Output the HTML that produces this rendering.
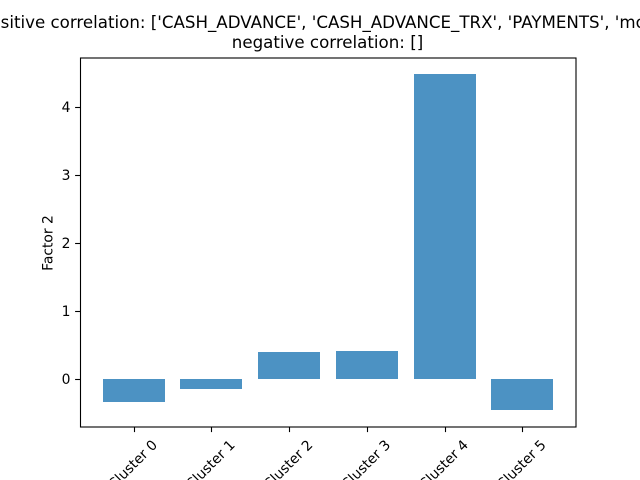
<!DOCTYPE html>
<html>
<head>
<meta charset="utf-8">
<style>
html,body{margin:0;padding:0;background:#fff;width:640px;height:480px;overflow:hidden}
svg{display:block}
text{font-family:"DejaVu Sans",sans-serif;fill:#000}
</style>
</head>
<body>
<svg id="chart" xmlns="http://www.w3.org/2000/svg" width="640" height="480" viewBox="0 0 640 480">
<rect x="0" y="0" width="640" height="480" fill="#fff"/>
<text x="-19" y="28" font-size="16.67" text-anchor="start">Positive correlation: ['CASH_ADVANCE', 'CASH_ADVANCE_TRX', 'PAYMENTS', 'monthly']</text>
<text x="327.5" y="48" font-size="16.67" text-anchor="middle">negative correlation: []</text>
<text x="0" y="0" font-size="13.89" text-anchor="middle" transform="translate(52.5,243) rotate(-90)">Factor 2</text>
<g id="bars"></g>
<g id="axes"></g>
<rect x="80.5" y="58" width="495.5" height="369" fill="none" stroke="#000" stroke-width="1.1"/>
</svg>
<script>
const categories = ["Cluster 0", "Cluster 1", "Cluster 2", "Cluster 3", "Cluster 4", "Cluster 5"];
const values = [-0.33, -0.14, 0.40, 0.42, 4.48, -0.455];
const yTicks = [0, 1, 2, 3, 4];

const NS = "http://www.w3.org/2000/svg";
const plot = {left: 80, right: 576, top: 57.6, bottom: 427.2};
const barWidth = 0.8;

function extent() {
  const lo = Math.min(0, ...values);
  const hi = Math.max(0, ...values);
  const pad = (hi - lo) * 0.05;
  return [lo - pad, hi + pad];
}
function xScale(i) {
  const lo = -barWidth / 2, hi = categories.length - 1 + barWidth / 2;
  const pad = (hi - lo) * 0.05;
  return plot.left + (i - (lo - pad)) / ((hi + pad) - (lo - pad)) * (plot.right - plot.left);
}
function yScale(v) {
  const [lo, hi] = extent();
  return plot.bottom - (v - lo) / (hi - lo) * (plot.bottom - plot.top);
}
function make(tag, attrs, parent) {
  const el = document.createElementNS(NS, tag);
  for (const k in attrs) el.setAttribute(k, attrs[k]);
  parent.appendChild(el);
  return el;
}

const barsG = document.getElementById("bars");
const axesG = document.getElementById("axes");

values.forEach(function (v, i) {
  const x0 = Math.round(xScale(i - barWidth / 2)), x1 = Math.round(xScale(i + barWidth / 2));
  const y0 = Math.round(yScale(Math.max(v, 0))), y1 = Math.round(yScale(Math.min(v, 0)));
  const r = make("rect", {x: x0, y: y0, width: x1 - x0, height: y1 - y0, fill: "#1f77b4", "fill-opacity": 0.8, "shape-rendering": "crispEdges"}, barsG);
  
  

  const px = Math.round(xScale(i)) + 0.5;
  const t = make("line", {x1: px, x2: px, y1: plot.bottom, y2: plot.bottom + 4.9, stroke: "#000", "stroke-width": 1.1}, axesG);
  
  

  const lab = make("text", {x: 0, y: 0, "font-size": 13.89, "text-anchor": "middle", "dominant-baseline": "central",
    transform: "translate(" + (xScale(i) - 0.5) + ",465) rotate(-45)"}, axesG);
  lab.textContent = categories[i];
  
  
});

yTicks.forEach(function (v) {
  const py = Math.round(yScale(v)) + 0.5;
  const t = make("line", {x1: plot.left - 4.9, x2: plot.left, y1: py, y2: py, stroke: "#000", "stroke-width": 1.1}, axesG);
  
  

  const lab = make("text", {x: plot.left - 9.6, y: py + 4.5, "font-size": 13.89, "text-anchor": "end"}, axesG);
  lab.textContent = String(v);
  
  
});
</script>
</body>
</html>
